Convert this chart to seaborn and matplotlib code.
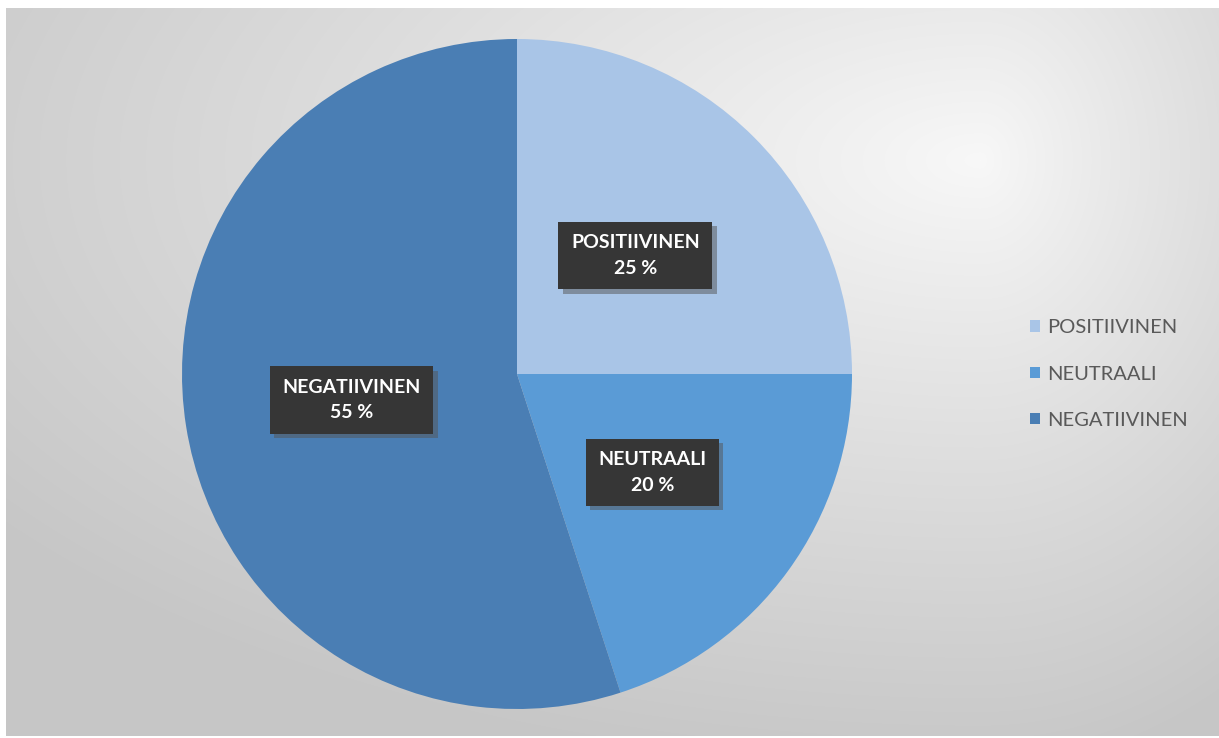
import numpy as np
import matplotlib
matplotlib.use("Agg")
import matplotlib.pyplot as plt
import matplotlib.patheffects as pe
from matplotlib.patches import Patch
import seaborn as sns

categories = ["POSITIIVINEN", "NEUTRAALI", "NEGATIIVINEN"]
values = [25, 20, 55]
pct_labels = ["25 %", "20 %", "55 %"]

sns.set_theme(style="white")
plt.rcParams['font.family'] = ['Lato', 'DejaVu Sans']
colors = sns.color_palette(["#a9c5e7", "#5a9bd6", "#4a7eb4"])

W, H = 1219, 738
fig = plt.figure(figsize=(W / 100, H / 100), dpi=100)

# background gradient
bg = fig.add_axes([0, 0, 1, 1])
yy, xx = np.mgrid[0:H, 0:W].astype(float)
cx, cy = 980.0, 160.0
sx = np.where(xx < cx, 2.0, 0.8)
d = np.sqrt(((xx - cx) / sx) ** 2 + (yy - cy) ** 2)
v = 248 - 50 * np.clip(d / 620.0, 0, 1) ** 0.9
img = np.dstack([v, v, v]) / 255.0
# white margins
img[:8, :, :] = 1.0
img[:, :6, :] = 1.0
img[-2:, :, :] = 1.0
bg.imshow(img, aspect="auto", extent=[0, W, H, 0], interpolation="bilinear")
bg.set_axis_off()

# pie
cxp, cyp, r = 517, 374, 335
ax = fig.add_axes([(cxp - r) / W, (H - cyp - r) / H, 2 * r / W, 2 * r / H])
wedges, texts, autotexts = ax.pie(
    values, colors=colors, startangle=90, counterclock=False,
    autopct="%1.0f", pctdistance=0.5, radius=1.0,
    wedgeprops=dict(linewidth=0))
for t, cat, p in zip(autotexts, categories, pct_labels):
    t.set_text(f"{cat}\n{p}")
    t.set_color("white")
    t.set_fontsize(14)
    t.set_fontweight("bold")
    t.set_linespacing(1.6)
    t.set_ha("center")
    t.set_va("center")
    t.set_bbox(dict(boxstyle="square,pad=0.65", fc="#363636", ec="none"))
    t.get_bbox_patch().set_path_effects(
        [pe.SimplePatchShadow(offset=(3, -3), shadow_rgbFace="#555555", alpha=0.5), pe.Normal()])
ax.set_xlim(-1, 1)
ax.set_ylim(-1, 1)
ax.set_aspect("equal")
ax.set_axis_off()

handles = [Patch(facecolor=c, edgecolor="none") for c in colors]
leg = fig.legend(handles, categories, loc="center left",
                 bbox_to_anchor=(1012 / W, 1 - 374 / H),
                 frameon=False, fontsize=14.5, labelcolor="#595959",
                 handlelength=0.5, handleheight=0.5, handletextpad=0.35,
                 labelspacing=1.45)

fig.savefig("out.png", dpi=100)
